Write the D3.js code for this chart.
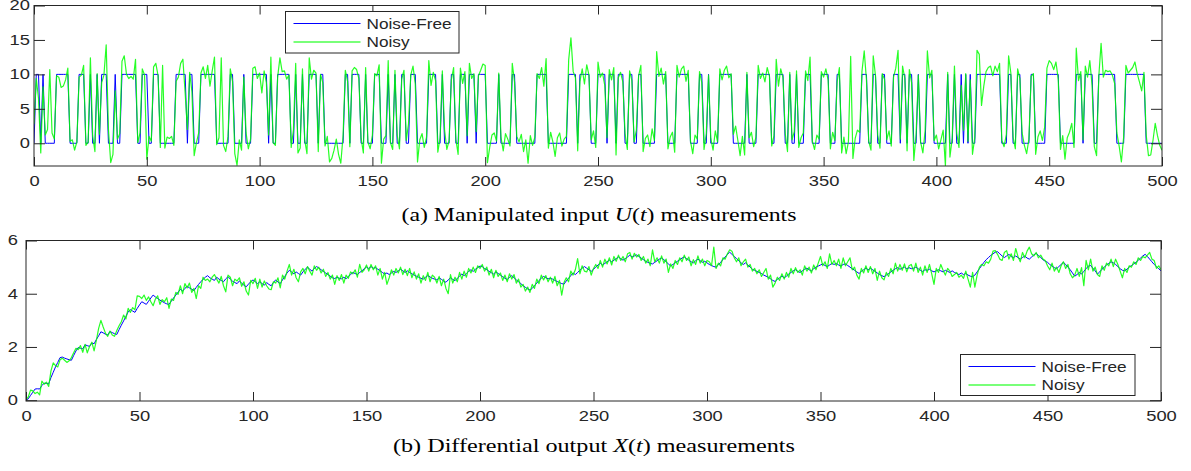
<!DOCTYPE html>
<html>
<head>
<meta charset="utf-8">
<script src="https://cdn.jsdelivr.net/npm/d3@7"></script>
<style>
    body { margin: 0; background: #fff; }
    svg text { font-family: "Liberation Sans", Arial, sans-serif; fill: #262626; }
    .caption { font-family: "Liberation Serif", "Times New Roman", serif; font-size: 18px; fill: #000; }
</style>
</head>
<body>
<svg id="chart" width="1191" height="471"></svg>
<script>
// sample index axis
const tTicks = [0, 50, 100, 150, 200, 250, 300, 350, 400, 450, 500];
const uTicks = [0, 5, 10, 15, 20];
const xTicks = [0, 2, 4, 6];
const legendLabels = ["Noise-Free", "Noisy"];

// noise-free input U(t), read as runs of [level, number of samples], t = 0..500
const uRuns = [
    [0,1],[10,2],[0,1],[10,1],[0,5],[10,6],[0,4],[10,3],[0,2],[10,1],[0,2],[10,1],[0,1],[10,3],[0,3],
    [10,1],[0,2],[10,7],[0,2],[10,3],[0,2],[10,3],[0,7],[10,5],[0,1],[10,2],[0,3],[10,7],[0,6],[10,2],
    [0,4],[10,1],[0,3],[10,7],[0,1],[10,1],[0,2],[10,6],[0,2],[10,1],[0,2],[10,1],[0,2],[10,4],[0,1],
    [10,2],[0,9],[10,2],[0,1],[10,4],[0,2],[10,1],[0,3],[10,3],[0,3],[10,1],[0,2],
    [10,1],[0,2],[10,2],[0,2],[10,3],[0,5],[10,4],[0,2],[10,1],[0,3],[10,2],[0,2],[10,3],[0,1],[10,3],
    [0,1],[10,4],[0,5],[10,1],[0,5],[10,2],[0,9],[10,5],[0,9],[10,4],[0,1],[10,5],[0,3],[10,4],[0,1],
    [10,3],[0,1],[10,3],[0,2],[10,2],[0,2],[10,2],[0,6],[10,5],[0,4],[10,6],[0,4],[10,2],[0,2],[10,1],
    [0,4],[10,6],[0,6],[10,1],[0,4],[10,6],[0,2],[10,1],
    [10,3],[0,2],[10,1],[0,2],[10,1],[0,3],[10,3],[0,4],[10,4],[0,3],[10,2],[0,9],[10,3],[0,2],[10,2],
    [0,2],[10,2],[0,3],[10,3],[0,1],[10,2],[0,1],[10,2],[0,2],[10,1],[0,3],[10,3],[0,6],[10,1],[0,2],
    [10,1],[0,2],[10,1],[0,1],[10,1],[0,1],[10,1],[0,2],[10,11],[0,3],[10,2],[0,2],[10,2],[0,4],[10,2],
    [0,5],[10,6],[0,7],[10,3],[0,1],[10,4],[0,2],[10,8],[0,4],[10,9],[0,8]
];

// noisy input measurements
const uNoisy = [
    2.8, 9.4, 6.5, -1.4, 8.2, 1.2, 2.0, 10.7, 1.5, 0.6, 9.8, 9.6, 8.1, 8.3, 9.2, 10.9, 0.3, 0.5, -1.0, 0.2,
    9.6, 9.9, 11.3, -0.3, 0.2, 12.4, 1.1, -1.2, 10.1, 1.3, 8.8, 9.9, 14.3, 2.0, -2.8, -1.6, 7.6, 0.6, 1.4, 11.9,
    12.7, 10.0, 9.4, 9.7, 9.3, 12.2, 0.1, 1.5, 10.8, 9.9, -2.3, 1.0, 0.3, 11.1, 11.6, 9.8, -0.6, 11.3, -0.7, 0.9,
    0.7, 1.0, -0.3, 9.0, 9.6, 11.6, 12.2, 7.3, 2.0, 10.3, 7.5, -1.8, 0.1, 1.5, 10.2, 11.1, 9.4, 11.3, 8.3, 10.5,
    12.5, -0.2, 0.8, 12.4, -0.3, -1.2, 1.0, 10.8, 9.0, -1.5, -3.2, 0.5, -1.0, 9.6, 1.5, -0.8, 0.6, 10.9, 11.1, 9.4,
    10.2, 7.3, 10.5, 8.8, 1.2, 12.5, 0.1, -0.3, 9.6, 12.4, 10.4, 10.5, 9.3, 9.9, -0.6, 1.9, 11.6, -1.4, -0.7, 10.8,
    0.5, -1.5, 12.4, 9.3, 10.6, 10.2, -1.2, 10.0, 8.8, -0.4, 1.0, -2.7, -2.2, -1.0, 0.6, -1.6, -2.9, 1.1, 10.6, 9.0,
    -0.5, 10.5, 11.0, 10.7, 9.4, 0.7, -1.4, 11.0, 0.2, -0.8, 1.2, 10.1, 9.8, 11.4, -2.9, 0.6, 1.1, 12.0, 0.1, -0.9,
    10.6, 1.2, -0.8, 9.3, 10.6, 0.4, 2.8, 9.9, 11.2, 8.6, -2.7, 0.5, 1.4, -0.6, 0.9, 12.0, 8.4, 10.3, 9.1, -1.3,
    0.8, 10.5, 1.9, -0.9, 0.4, 9.2, 11.0, 0.6, -1.6, 10.9, 8.7, 10.4, 1.1, 11.6, 9.4, 10.1, 1.7, 9.8, 10.6, 11.5,
    11.3, -2.8, -0.6, 1.2, 1.5, 0.3, 10.2, 0.9, -1.1, 1.4, 0.6, -0.4, 11.6, 8.9, 1.0, 0.2, 1.3, -1.2, 0.5, -2.9,
    1.1, -0.3, 0.9, 10.1, 9.4, 11.0, 8.3, 12.3, -0.7, 1.6, 0.2, -1.9, 0.8, 1.5, -0.4, 0.6, 1.0, 12.1, 15.3, 10.4,
    9.5, -1.1, 9.0, 10.8, 8.6, 11.4, 9.9, 0.5, 1.8, -0.6, 11.8, 9.6, 10.2, 8.4, 0.8, 10.7, 9.2, 11.0, -1.7, 9.5,
    10.3, 8.9, 1.4, -0.9, 10.5, 9.1, 0.2, 1.9, 9.8, 11.3, -1.2, 0.7, 1.2, -0.5, 2.1, 0.4, 13.3, 9.7, 10.9, 8.6,
    10.4, -0.8, 0.9, 1.6, -1.3, 11.3, 9.6, 10.8, 11.2, 9.0, 10.6, 0.3, -1.5, 1.2, 0.6, 10.4, 8.8, -0.9, 1.4, 9.9,
    0.7, -1.0, 1.8, 0.2, 10.8, 9.2, 10.6, 11.2, 9.5, 10.1, 1.3, 2.5, 0.4, -1.8, 1.0, -1.7, 10.3, 0.8, 1.6, -0.5,
    0.9, 11.3, 9.4, 10.2, 8.9, 11.0, 9.7, -0.4, 1.1, 12.2, 8.3, 10.8, 9.5, 1.4, -1.2, 10.3, 0.5, 1.7, 10.5, -0.6,
    0.8, 1.5, 10.5, 9.1, 12.5, 0.3, -0.9, 1.2, 0.6, 10.4, 9.6, 10.8, 9.2, -0.8, 1.6, 0.4, 8.9, 11.0, -1.4, 0.9,
    -1.5, 0.2, 12.6, -2.2, 0.7, 1.9, 1.6, 10.4, 13.4, 9.2, 0.3, -1.0, 12.7, 9.8, 1.2, -0.7, 10.1, 9.3, 0.5, 1.8,
    -0.4, 9.6, 10.9, 13.5, 0.6, 11.2, 9.4, -1.1, 10.7, 8.8, -2.5, 1.3, 9.9, 0.2, -1.4, 1.8, 13.4, 9.5, 10.6, 0.4,
    1.2, -0.8, 0.5, 1.9, -3.3, 10.3, -2.0, 0.7, 11.2, 1.5, -0.6, 8.4, 1.9, 10.1, 0.3, 9.2, -1.6, 0.8, 13.5, 12.9,
    5.5, 8.3, 10.4, 11.0, 11.2, 9.8, 11.2, 10.4, 11.6, 0.4, -0.5, 1.3, 12.7, 10.2, 0.9, -0.8, 10.8, 9.4, 1.5, -0.3,
    -1.5, 0.6, 9.7, 10.1, -1.6, 0.9, 1.8, 0.4, 2.4, 10.9, 12.0, 11.6, 10.7, 11.8, 9.3, -0.9, 1.1, -2.3, 0.8, 1.6,
    2.9, -0.6, 13.8, 9.1, 10.4, 0.5, 11.2, 9.6, 12.0, 8.4, -0.5, -1.8, 9.8, 14.5, 9.6, 10.6, 10.4, 10.5, 9.9, 8.7,
    1.5, -0.4, -2.7, 0.9, 11.3, 10.2, 10.6, 11.0, 11.8, 10.1, 8.9, 7.6, 10.3, 1.2, -1.8, -1.7, 0.4, 2.9, 1.1, -0.3, -1.0
];

// noise-free output X(t)
const xClean = [
    0, 0.05, 0.18, 0.30, 0.42, 0.43, 0.42, 0.55, 0.64, 0.63, 0.62, 0.85, 1.05, 1.25, 1.42, 1.60, 1.62, 1.58, 1.55, 1.52, 1.50,
    1.68, 1.85, 1.98, 1.95, 1.93, 2.08, 2.05, 2.02, 2.15, 2.12, 2.28, 2.42, 2.57, 2.53, 2.48, 2.45, 2.58, 2.54, 2.50, 2.47,
    2.65, 2.82, 2.98, 3.15, 3.32, 3.40, 3.35, 3.30, 3.45, 3.58, 3.70, 3.65, 3.60, 3.72, 3.84, 3.95, 3.88, 3.82, 3.76, 3.71,
    3.66, 3.62, 3.60, 3.72, 3.84, 3.95, 4.06, 4.16, 4.10, 4.20, 4.28, 4.22, 4.17, 4.12, 4.24, 4.35, 4.45, 4.54, 4.62, 4.68,
    4.60, 4.55, 4.50, 4.62, 4.55, 4.50, 4.45, 4.56, 4.64, 4.55, 4.47, 4.42, 4.38, 4.48, 4.40, 4.32, 4.26, 4.36, 4.45, 4.52,
    4.45, 4.38, 4.45, 4.38, 4.32, 4.42, 4.35, 4.30, 4.42, 4.52, 4.44, 4.38, 4.52, 4.65, 4.78, 4.88, 4.82, 4.75, 4.82, 4.76,
    4.70, 4.82, 4.92, 5.00, 4.92, 4.85, 4.95, 5.02, 4.97, 4.90, 4.84, 4.78, 4.72, 4.66, 4.60, 4.57, 4.62, 4.58, 4.56, 4.62,
    4.56, 4.65, 4.72, 4.80, 4.76, 4.72, 4.80, 4.86, 4.94, 5.00, 4.95, 5.02, 4.96, 4.98, 4.92, 4.86, 4.80, 4.74, 4.78, 4.72,
    4.78, 4.84, 4.80, 4.86, 4.92, 4.86, 4.80, 4.86, 4.80, 4.75, 4.70, 4.66, 4.62, 4.58, 4.55, 4.62, 4.68, 4.63, 4.58, 4.55,
    4.52, 4.60, 4.54, 4.48, 4.43, 4.52, 4.60, 4.54, 4.49, 4.58, 4.66, 4.74, 4.68, 4.76, 4.84, 4.90, 4.84, 4.92, 4.98, 5.04,
    5.02, 4.95, 4.90, 4.84, 4.79, 4.74, 4.82, 4.76, 4.70, 4.64, 4.58, 4.53, 4.62, 4.68, 4.60, 4.52, 4.45, 4.38, 4.30, 4.24,
    4.18, 4.14, 4.20, 4.30, 4.40, 4.50, 4.58, 4.65, 4.60, 4.56, 4.58, 4.55, 4.50, 4.46, 4.42, 4.38, 4.36, 4.48, 4.58, 4.68,
    4.78, 4.72, 4.80, 4.88, 4.96, 5.02, 4.96, 4.90, 4.84, 4.92, 5.00, 5.08, 5.14, 5.08, 5.14, 5.20, 5.26, 5.20, 5.26, 5.32,
    5.38, 5.32, 5.26, 5.32, 5.38, 5.45, 5.38, 5.42, 5.46, 5.40, 5.34, 5.28, 5.22, 5.18, 5.14, 5.12, 5.18, 5.24, 5.30, 5.34,
    5.28, 5.20, 5.12, 5.04, 5.10, 5.16, 5.22, 5.28, 5.34, 5.38, 5.32, 5.26, 5.20, 5.16, 5.24, 5.30, 5.24, 5.18, 5.22, 5.16,
    5.10, 5.06, 5.02, 5.00, 5.08, 5.18, 5.28, 5.38, 5.48, 5.56, 5.48, 5.40, 5.32, 5.24, 5.16, 5.10, 5.16, 5.08, 5.00, 4.92,
    4.88, 4.84, 4.80, 4.76, 4.70, 4.66, 4.62, 4.56, 4.50, 4.46, 4.54, 4.60, 4.66, 4.60, 4.66, 4.74, 4.80, 4.86, 4.90, 4.84,
    4.80, 4.86, 4.92, 4.96, 4.90, 4.86, 4.94, 5.00, 5.04, 5.08, 5.12, 5.06, 5.02, 5.08, 5.14, 5.10, 5.14, 5.08, 5.04, 5.10,
    5.12, 5.06, 5.00, 4.94, 4.88, 4.82, 4.76, 4.84, 4.90, 4.96, 4.90, 4.96, 4.90, 4.84, 4.78, 4.72, 4.68, 4.64, 4.70, 4.76,
    4.82, 4.88, 4.94, 4.98, 4.92, 4.96, 5.00, 4.94, 4.98, 4.94, 4.96, 5.00, 4.94, 4.88, 4.84, 4.90, 4.88, 4.92, 4.86, 4.82,
    4.86, 4.90, 4.86, 4.82, 4.88, 4.84, 4.80, 4.86, 4.80, 4.76, 4.72, 4.78, 4.72, 4.76, 4.70, 4.66, 4.64, 4.70, 4.82, 4.94,
    5.06, 5.18, 5.28, 5.36, 5.44, 5.50, 5.56, 5.58, 5.50, 5.42, 5.36, 5.42, 5.48, 5.40, 5.36, 5.42, 5.36, 5.30, 5.36, 5.42,
    5.34, 5.30, 5.38, 5.46, 5.52, 5.44, 5.36, 5.28, 5.22, 5.18, 5.10, 5.04, 4.98, 4.94, 5.02, 5.10, 5.18, 5.10, 5.00, 4.90,
    4.78, 4.66, 4.72, 4.80, 4.74, 4.84, 4.94, 5.04, 5.06, 4.96, 4.86, 4.74, 4.82, 4.92, 5.00, 5.08, 5.14, 5.20, 5.16, 5.10,
    5.02, 4.94, 4.88, 4.86, 4.92, 5.00, 5.06, 5.12, 5.18, 5.26, 5.34, 5.42, 5.48, 5.40, 5.30, 5.20, 5.10, 5.02, 4.94, 4.86
];

// noisy output measurements
const xNoisy = [
    0.02, 0.12, 0.38, 0.35, 0.25, 0.30, 0.20, 0.72, 0.60, 0.68, 0.52, 1.10, 1.40, 1.30, 1.25, 1.52, 1.58, 1.50, 1.42, 1.48, 1.60,
    1.78, 1.95, 1.90, 2.05, 1.80, 2.10, 1.78, 2.02, 2.18, 1.85, 2.25, 2.70, 3.00, 2.75, 2.52, 2.40, 2.60, 2.45, 2.40, 2.62,
    2.80, 2.95, 3.20, 3.05, 3.45, 3.30, 3.48, 3.40, 3.92, 3.90, 3.82, 3.95, 3.75, 3.88, 3.70, 3.55, 3.80, 3.92, 3.60, 3.78,
    3.70, 3.85, 3.45, 3.80, 3.75, 4.05, 3.98, 4.30, 4.00, 4.38, 4.22, 4.40, 4.05, 4.20, 3.82, 4.30, 4.20, 4.62, 4.50, 4.55,
    4.45, 4.62, 4.72, 4.55, 4.40, 4.65, 4.30, 4.07, 4.70, 4.62, 4.30, 4.55, 4.48, 4.60, 4.28, 4.45, 4.10, 3.95, 4.50, 4.38,
    4.58, 4.20, 4.55, 4.25, 4.48, 4.30, 4.18, 4.15, 4.45, 4.40, 4.60, 4.22, 4.70, 4.55, 4.85, 5.10, 4.70, 4.92, 4.60, 4.45,
    4.82, 4.95, 4.75, 5.02, 4.85, 4.70, 5.05, 4.88, 5.00, 4.78, 4.92, 4.65, 4.80, 4.55, 4.70, 4.35, 4.68, 4.50, 4.72, 4.40,
    4.70, 4.58, 4.82, 4.75, 4.90, 4.62, 5.10, 4.80, 4.90, 5.08, 4.85, 5.10, 4.90, 5.05, 4.70, 4.95, 4.55, 4.80, 4.35, 4.60,
    4.90, 4.70, 4.95, 4.78, 5.00, 4.72, 4.92, 4.68, 4.95, 4.60, 4.82, 4.55, 4.75, 4.40, 4.68, 4.50, 4.80, 4.45, 4.70, 4.62,
    4.40, 4.65, 4.30, 4.55, 4.20, 4.00, 4.72, 4.40, 4.62, 4.45, 4.80, 4.55, 4.85, 4.62, 4.95, 4.78, 5.00, 4.80, 5.05, 4.95,
    5.10, 4.85, 5.00, 4.70, 4.92, 4.60, 4.88, 4.65, 4.78, 4.50, 4.70, 4.45, 4.75, 4.55, 4.72, 4.40, 4.55, 4.25, 4.35, 4.10,
    4.25, 4.05, 4.35, 4.20, 4.55, 4.38, 4.70, 4.52, 4.68, 4.45, 4.62, 4.40, 4.65, 4.30, 4.50, 3.95, 4.42, 4.60, 4.45, 4.85,
    4.70, 4.90, 5.32, 4.75, 5.05, 4.85, 4.82, 5.02, 4.70, 4.95, 5.10, 4.95, 5.25, 5.00, 5.30, 5.12, 5.35, 5.08, 5.40, 5.22,
    5.45, 5.25, 5.40, 5.20, 5.50, 5.55, 5.30, 5.52, 5.38, 5.48, 5.25, 5.40, 5.15, 5.30, 5.05, 5.65, 5.20, 5.35, 5.15, 5.42,
    5.15, 5.30, 4.80, 5.12, 4.95, 5.25, 5.10, 5.35, 5.20, 5.45, 5.25, 5.38, 5.05, 5.28, 5.10, 5.42, 5.15, 5.30, 5.05, 5.25,
    5.20, 5.05, 5.75, 4.95, 5.15, 5.05, 5.35, 5.30, 5.50, 5.65, 5.60, 5.35, 5.20, 5.35, 5.05, 5.20, 5.30, 5.00, 5.10, 4.85,
    4.95, 4.75, 4.90, 4.65, 4.80, 4.95, 4.55, 4.70, 4.25, 4.40, 4.62, 4.50, 4.75, 4.55, 4.80, 4.62, 4.95, 4.75, 4.98, 4.80,
    4.90, 4.70, 5.05, 4.85, 5.00, 4.78, 5.08, 4.90, 5.15, 5.40, 5.05, 5.20, 4.95, 5.50, 5.10, 5.25, 5.05, 5.30, 4.95, 5.35,
    5.05, 5.20, 5.35, 4.90, 5.00, 4.70, 4.55, 4.95, 4.78, 5.05, 4.80, 5.02, 4.75, 4.95, 4.50, 4.85, 4.60, 4.52, 4.80, 4.65,
    4.95, 4.75, 5.15, 4.85, 5.10, 4.88, 5.12, 4.82, 5.05, 5.10, 4.85, 5.15, 4.80, 5.00, 4.70, 5.05, 4.80, 5.10, 4.75, 4.35,
    4.95, 4.80, 5.10, 4.88, 4.70, 4.95, 4.85, 4.65, 4.72, 4.80, 4.62, 4.70, 4.58, 4.85, 4.55, 4.25, 4.80, 4.25, 4.70, 5.00,
    5.10, 5.05, 5.20, 5.15, 5.30, 5.60, 5.62, 5.48, 5.30, 5.25, 5.55, 5.62, 5.30, 5.50, 5.25, 5.70, 5.40, 5.20, 5.55, 5.35,
    5.60, 5.75, 5.50, 5.42, 5.55, 5.35, 5.45, 5.30, 5.25, 5.05, 4.90, 5.15, 4.85, 5.00, 4.80, 5.05, 5.20, 4.95, 5.10, 4.75,
    4.60, 4.70, 4.95, 4.65, 4.98, 4.30, 5.25, 4.90, 5.30, 4.85, 5.00, 4.72, 4.65, 5.05, 4.88, 5.15, 5.05, 5.30, 5.02, 5.30,
    5.10, 4.85, 4.60, 4.95, 4.80, 5.05, 5.00, 5.20, 5.10, 5.35, 5.25, 5.40, 5.35, 5.45, 5.55, 5.30, 5.25, 4.95, 5.05, 4.90
];

const uClean = [];
uRuns.forEach(function(r) {
    for (let i = 0; i < r[1]; i++) uClean.push(r[0]);
});

const svg = d3.select("#chart");
const axisColor = "#262626";

/**
 * Draws one boxed MATLAB-like panel with both series, ticks and legend
 */
function drawPanel(cfg) {
    let x = d3.scaleLinear().domain([0, 500]).range([cfg.left, cfg.right]);
    let y = d3.scaleLinear().domain(cfg.yDomain).range([cfg.bottom, cfg.top]);
    let g = svg.append("g");

    g.append("clipPath").attr("id", cfg.id)
        .append("rect")
        .attr("x", cfg.left).attr("y", cfg.top)
        .attr("width", cfg.right - cfg.left).attr("height", cfg.bottom - cfg.top);

    let line = d3.line().x((d, i) => x(i)).y(d => y(d));

    g.append("path").datum(cfg.clean)
        .attr("d", line)
        .attr("fill", "none")
        .attr("stroke", "#0000ff")
        .attr("stroke-width", 1)
        .attr("clip-path", "url(#" + cfg.id + ")");

    g.append("path").datum(cfg.noisy)
        .attr("d", line)
        .attr("fill", "none")
        .attr("stroke", "#00ff00")
        .attr("stroke-opacity", 0.85)
        .attr("stroke-width", 1.2)
        .attr("stroke-linejoin", "round")
        .attr("clip-path", "url(#" + cfg.id + ")");

    // axes with inward ticks on all four sides
    let fmt = d3.format("d");
    let axes = [
        [d3.axisBottom(x).tickValues(tTicks).tickPadding(10), 0, cfg.bottom, 9, true],
        [d3.axisTop(x).tickValues(tTicks), 0, cfg.top, 9, false],
        [d3.axisLeft(y).tickValues(cfg.yTicks).tickPadding(cfg.yPad), cfg.left, 0, 11, true],
        [d3.axisRight(y).tickValues(cfg.yTicks), cfg.right, 0, 11, false]
    ];
    axes.forEach(function(a) {
        let axis = a[0].tickSizeInner(-a[3]).tickSizeOuter(0);
        axis.tickFormat(a[4] ? fmt : () => "");
        let ag = g.append("g")
            .attr("transform", "translate(" + a[1] + "," + a[2] + ")")
            .call(axis);
        ag.select(".domain").remove();
        ag.selectAll(".tick line").attr("stroke", axisColor);
        ag.selectAll(".tick text")
            .attr("fill", axisColor)
            .style("font-size", "14px")
            .attr("textLength", function() { return this.textContent.length * 10.2; })
            .attr("lengthAdjust", "spacingAndGlyphs");
    });

    g.append("rect")
        .attr("x", cfg.left).attr("y", cfg.top)
        .attr("width", cfg.right - cfg.left).attr("height", cfg.bottom - cfg.top)
        .attr("fill", "none")
        .attr("stroke", axisColor)
        .attr("stroke-width", 1);

    // legend
    let lg = g.append("g");
    let L = cfg.legend;
    lg.append("rect")
        .attr("x", L.x).attr("y", L.y).attr("width", L.w).attr("height", L.h)
        .attr("fill", "#fff").attr("stroke", axisColor).attr("stroke-width", 1);
    let legendColors = ["#0000ff", "#00ff00"];
    let legendWidths = [85, 43];
    legendLabels.forEach(function(label, i) {
        let ly = L.y + 12 + i * 18.5;
        lg.append("line")
            .attr("x1", L.x + 8).attr("x2", L.x + 75)
            .attr("y1", ly).attr("y2", ly)
            .attr("stroke", legendColors[i])
            .attr("stroke-opacity", i == 1 ? 0.7 : 1)
            .attr("stroke-width", i == 1 ? 1.4 : 1);
        lg.append("text")
            .attr("x", L.x + 81).attr("y", ly + 5)
            .style("font-size", "14px")
            .attr("fill", "#000")
            .attr("textLength", legendWidths[i])
            .attr("lengthAdjust", "spacingAndGlyphs")
            .text(label);
    });

    // caption under the panel
    let cap = svg.append("text")
        .attr("class", "caption")
        .attr("x", cfg.capX).attr("y", cfg.capY)
        .attr("text-anchor", "middle")
        .attr("textLength", cfg.capW)
        .attr("lengthAdjust", "spacingAndGlyphs");
    cap.append("tspan").text(cfg.caption[0]);
    cap.append("tspan").style("font-style", "italic").text(cfg.caption[1]);
    cap.append("tspan").text("(");
    cap.append("tspan").style("font-style", "italic").text("t");
    cap.append("tspan").text(") measurements");
}

drawPanel({
    id: "clipU", left: 34, right: 1162, top: 5.5, bottom: 166,
    yDomain: [-3.3, 20], yTicks: uTicks, yPad: 4,
    clean: uClean, noisy: uNoisy,
    legend: { x: 285.5, y: 11.5, w: 173.5, h: 41.5 },
    caption: ["(a) Manipulated input ", "U"], capX: 599, capY: 221, capW: 395
});

drawPanel({
    id: "clipX", left: 26, right: 1161, top: 240.5, bottom: 401,
    yDomain: [-0.03, 6], yTicks: xTicks, yPad: 8,
    clean: xClean, noisy: xNoisy,
    legend: { x: 960.5, y: 354.5, w: 174.5, h: 41 },
    caption: ["(b) Differential output ", "X"], capX: 594, capY: 452, capW: 402
});
</script>
</body>
</html>
